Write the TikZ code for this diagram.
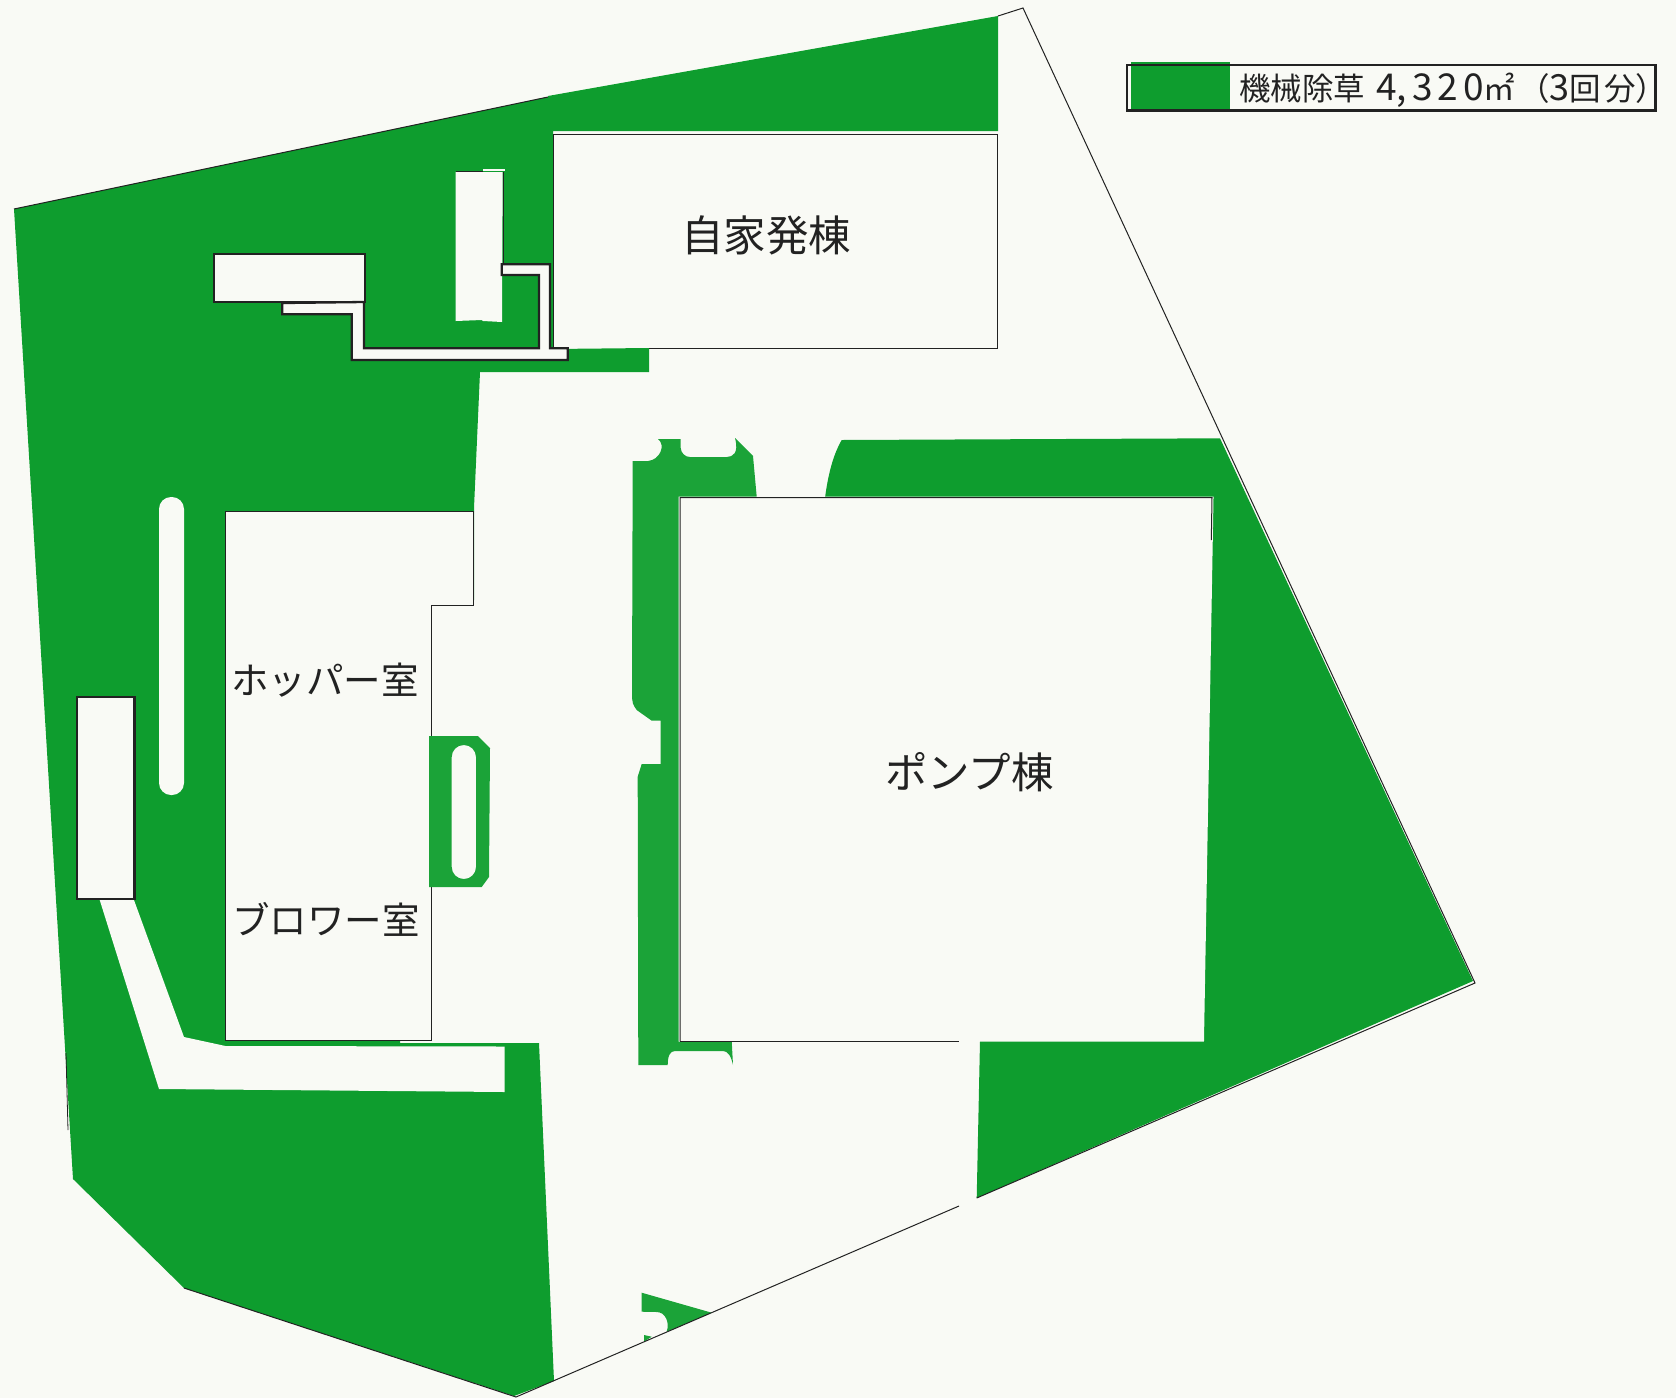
\documentclass[tikz,border=0pt]{standalone}
\usepackage{fontspec}
\newfontfamily\jp{Noto Sans CJK JP}
\definecolor{paper}{HTML}{F9FAF5}
\definecolor{grass}{HTML}{0E9D2E}
\definecolor{grasslt}{HTML}{1BA338}
\definecolor{ink}{HTML}{222222}
\tikzset{
  lawn/.style={fill=grass,draw=none},
  lawnlt/.style={fill=grasslt,draw=none},
  clear/.style={fill=paper,draw=none},
  halo/.style={fill=paper,draw=paper,line width=3pt},
  thinline/.style={draw=ink,line width=1pt},
  boldline/.style={draw=ink,line width=2.3pt},
  bigtxt/.style={font=\jp\fontsize{42.5}{43}\selectfont,text=ink,inner sep=0pt},
  roomtxt/.style={font=\jp\fontsize{37.5}{38}\selectfont,text=ink,inner sep=0pt},
  legtxt/.style={font=\jp\fontsize{31.5}{32}\selectfont,text=ink,inner sep=0pt,anchor=west}
}
\begin{document}
\begin{tikzpicture}[x=1pt,y=-1pt]
\useasboundingbox (0,0) rectangle (1676,1398);
\fill[paper] (0,0) rectangle (1676,1398);
% main lawn
\path[lawn] (14,209) -- (548,97) -- (548,96) -- (998,16) -- (998,131) -- (553,131) -- (553,349)
  -- (649,348) -- (649,372) -- (480,372) -- (474,508) -- (474,600) -- (400,600) -- (400,1043)
  -- (539,1043) -- (554,1381) -- (514,1396) -- (184,1288) -- (73,1179) -- cycle;
% right lawn
\path[lawn] (841.7,440) -- (1220,438.3) -- (1473,981) -- (976.7,1198) -- (980,1041) -- (1100,1041)
  -- (1100,498) -- (825,498) .. controls (828,475) and (833,455) .. (841.7,440) -- cycle;
% strip beside the pump building
\path[lawnlt] (632.7,461) -- (648,461) .. controls (660,460) and (666,445) .. (658,439)
  -- (680.7,439) -- (680.7,448) .. controls (681,453) and (685,457) .. (690,457) -- (726.7,457)
  .. controls (733,457) and (739,453) .. (735,438) -- (753,456) -- (757,500) -- (700,500) -- (700,1041)
  -- (731.7,1041) -- (733,1065) .. controls (731,1056) and (728,1051) .. (723,1051) -- (675,1051)
  .. controls (670,1051) and (667.7,1056) .. (667.7,1065) -- (638.3,1065) -- (637.7,776.7)
  -- (641.7,764) -- (660.7,764) -- (660.7,720.7) -- (651.7,720.7) -- (636.7,710)
  .. controls (633,705) and (632,702) .. (632,698) -- cycle;
% bottom triangle
\path[lawnlt] (641.7,1292.7) -- (711.7,1312.7) -- (666.7,1331.7) .. controls (670,1322) and (665,1312) .. (656.7,1312)
  -- (641.7,1311.7) -- cycle;
\path[lawnlt] (644,1335) -- (651.7,1336.7) -- (644,1341.7) -- cycle;
% buildings
\path[halo] (680,498) -- (1212,498) -- (1202.5,1040) -- (680,1040) -- cycle;
\path[clear] (553,134) rectangle (997,348);
\path[clear] (225.5,511) -- (473,511) -- (473,605) -- (431,605) -- (431,1040) -- (225.5,1040) -- cycle;
% road and slot
\path[clear] (99.4,899) -- (133.6,899) -- (184,1037) -- (225.5,1046) -- (504.5,1046.5) -- (504.5,1092) -- (159,1089) -- cycle;
\path[clear,rounded corners=12pt] (159,497) rectangle (184,795);
% upper slim block
\path[clear] (455.7,172) -- (502.7,172) -- (502,322) -- (483,321) -- (482,320) -- (455.7,321) -- cycle;
\draw[ink,line width=.8pt] (456,171.5) -- (483,171.5);
\draw[paper,line width=1.5pt] (483,170) -- (505,170);
\draw[thinline] (503,172) -- (503,265);
% outlines
\draw[thinline] (680,1041) -- (680,497.5) -- (1212,497.5) -- (1211.3,540);
\draw[thinline] (680,1041) -- (959,1041);
\draw[thinline] (553,134) -- (997.5,134) -- (997.5,348.5) -- (649,348.5);
\draw[draw=ink,line width=.7pt] (553,134) -- (553,348);
\draw[thinline] (225.5,1040) -- (225.5,511) -- (473,511) -- (473,605) -- (431,605) -- (431,1040) -- cycle;
% pipe and boxes
\path[boldline,fill=paper] (214,254) rectangle (365,302);
\path[boldline,fill=paper] (282.3,303) -- (282.3,314.3) -- (351.7,314.3) -- (351.7,360) -- (567.7,360)
  -- (567.7,348.3) -- (550,348.3) -- (550,264.3) -- (501.7,264.3) -- (501.7,275) -- (539,275)
  -- (539,348.3) -- (364,348.3) -- (364,302) -- cycle;
\path[boldline,fill=paper] (77,697) rectangle (134.5,899);
% D shape
\path[lawnlt,even odd rule] (429,736) -- (478,736) -- (490,748) -- (489,877) -- (481.7,887) -- (429,887) -- cycle
  [rounded corners=12pt] (451.7,745) rectangle (476,879);
% site boundary
\draw[thinline] (14,209) -- (548,97);
\draw[thinline] (998,16) -- (1023,8) -- (1475,983) -- (976.7,1198);
\draw[thinline] (959,1206) -- (516,1397) -- (184,1288);
\draw[draw=ink,line width=.8pt] (66,1053) -- (68,1130);
% legend
\path[fill=grass] (1131,62) rectangle (1230,109);
\draw[boldline] (1127,65) rectangle (1655.5,110.5);
\node[legtxt] (legend) at (1239,90) {機械除草\hspace{11pt}{\fontsize{37}{37}\selectfont 4,\kern5pt 3\kern5pt 2\kern5pt 0}㎡\hspace{3pt}（{\fontsize{36}{36}\selectfont 3}回\kern3pt 分）};
% labels
\node[bigtxt] (jika) at (766,235) {自家発棟};
\node[bigtxt] (pump) at (969.5,772) {ポンプ棟};
\node[roomtxt] (hopper) at (325,680) {ホッパー室};
\node[roomtxt] (blower) at (326,919) {ブロワー室};
\end{tikzpicture}
\end{document}
